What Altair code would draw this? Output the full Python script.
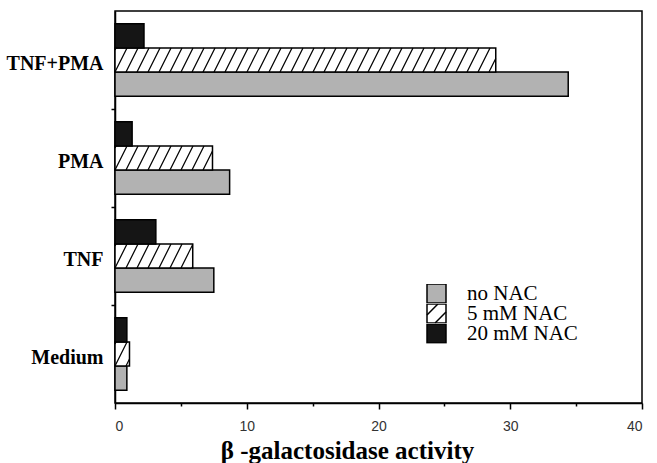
import altair as alt
import pandas as pd

# ---- data ----
categories = ["Medium", "TNF", "PMA", "TNF+PMA"]          # bottom -> top
series = ["no NAC", "5 mM NAC", "20 mM NAC"]
no_nac = [0.9, 7.5, 8.7, 34.4]
nac_5 = [1.1, 5.9, 7.4, 28.9]
nac_20 = [0.9, 3.1, 1.3, 2.2]
x_ticks = [0, 5, 10, 15, 20, 25, 30, 35, 40]

# ---- layout helpers ----
PAD = 0.13
BH = (1 - 2 * PAD) / 3
PX_PER_UNIT = 527 / 40.0
DX = 12 / PX_PER_UNIT      # horizontal run of a hatch stroke across one bar
SP = 11 / PX_PER_UNIT      # spacing between hatch strokes

rows = []
for ci, cat in enumerate(categories):
    for si, (s, vals) in enumerate(zip(series, [no_nac, nac_5, nac_20])):
        y0 = ci + PAD + si * BH
        rows.append(dict(category=cat, series=s, pattern="p" + str(si),
                         value=vals[ci], start=0.0,
                         y0=y0, y1=y0 + BH, ym=y0 + BH / 2))
bars = pd.DataFrame(rows)

hatch_rows = []
for r in bars[bars.series == series[1]].itertuples():
    k = -3
    while True:
        x0 = k * SP
        if x0 > r.value:
            break
        tmin = max(0.0, (0 - x0) / DX)
        tmax = min(1.0, (r.value - x0) / DX)
        if tmin < tmax:
            hatch_rows.append(dict(x=x0 + tmin * DX, x2=x0 + tmax * DX,
                                   y=r.y0 + tmin * BH, y2=r.y0 + tmax * BH))
        k += 1
hatch = pd.DataFrame(hatch_rows)

xscale = alt.Scale(domain=[0, 40], nice=False, zero=False)
yscale = alt.Scale(domain=[0, 4], nice=False, zero=False)

label_expr = " : ".join(
    f"datum.value === {i + 0.5} ? '{c}'" for i, c in enumerate(categories)
) + " : ''"

x_axis = alt.Axis(
    values=x_ticks,
    labelExpr="datum.value % 10 === 0 ? datum.label : ''",
    title="β -galactosidase  activity",
    grid=False,
    domainColor="black", domainWidth=1.5,
    tickColor="black", tickWidth=1.5,
    tickSize={"condition": {"test": "datum.value % 10 !== 0", "value": 3}, "value": 6},
    labelFont="Liberation Sans", labelFontSize=14, labelColor="#333",
    labelPadding=10,
    titleFont="Liberation Serif", titleFontWeight="bold", titleFontSize=25,
    titleColor="black",
    titleAlign="center", titleBaseline="alphabetic",
    titleX=232, titleY=55,
)
y_axis = alt.Axis(
    values=[0.5, 1, 1.5, 2, 2.5, 3, 3.5],
    labelExpr=label_expr,
    title=None,
    grid=False,
    domainColor="black", domainWidth=1.5,
    tickColor="black", tickWidth=1.5, tickSize=4,
    tickOpacity={"condition": {"test": "datum.value % 1 !== 0", "value": 0}, "value": 1},
    labelFont="Liberation Serif", labelFontWeight="bold", labelFontSize=20,
    labelColor="black", labelPadding=8, labelOffset=3,
)

fill_range = ["#b2b2b2", "white", "#151515"]
key_range = ["#b2b2b2", "transparent", "#151515"]
sq = "M-1,-1H1V1H-1Z"
hatch_only = "M-1,0.15L0.15,-1 M-0.15,1L1,-0.15"
blank = "M0,0Z"

rects = alt.Chart(bars).mark_rect(stroke="black", strokeWidth=1.5).encode(
    x=alt.X("start:Q", scale=xscale, axis=x_axis),
    x2="value:Q",
    y=alt.Y("y0:Q", scale=yscale, axis=y_axis),
    y2="y1:Q",
    fill=alt.Fill("series:N", scale=alt.Scale(domain=series, range=fill_range), legend=None),
)

lines = alt.Chart(hatch).mark_rule(color="black", strokeWidth=1.2).encode(
    x=alt.X("x:Q", scale=xscale),
    x2="x2:Q",
    y=alt.Y("y:Q", scale=yscale),
    y2="y2:Q",
)

common = dict(title=None, orient="none", legendX=311, legendY=273,
              clipHeight=19, rowPadding=-4)

# legend A: filled squares with series names
key_fill = alt.Chart(bars).mark_point(filled=True, opacity=0).encode(
    x=alt.X("value:Q", scale=xscale),
    y=alt.Y("ym:Q", scale=yscale),
    fill=alt.Fill("series:N", scale=alt.Scale(domain=series, range=key_range),
                  legend=alt.Legend(symbolType=sq, labelFont="Liberation Serif", **common)),
)
# legend B: hatch strokes laid over the (transparent) key square
key_hatch = alt.Chart(bars).mark_point(filled=False, color="black", opacity=0).encode(
    x=alt.X("value:Q", scale=xscale),
    y=alt.Y("ym:Q", scale=yscale),
    shape=alt.Shape("pattern:N",
                    scale=alt.Scale(domain=["p0", "p1", "p2"], range=[blank, hatch_only, blank]),
                    legend=alt.Legend(labelExpr="' '", symbolFillColor="transparent",
                                      symbolStrokeColor="black", symbolOpacity=1, **common)),
)

chart = alt.layer(rects, lines, key_fill, key_hatch).resolve_scale(
    fill="independent"
).properties(
    width=527, height=392, autosize="none",
    padding={"left": 115, "top": 11, "right": 15, "bottom": 60},
    background="white",
).configure(
    font="Liberation Serif"
).configure_view(
    stroke="black", strokeWidth=1.5
).configure_legend(
    symbolSize=361, symbolStrokeColor="black", symbolStrokeWidth=1.5,
    symbolOpacity=1,
    labelFont="Liberation Serif", labelFontSize=21, labelFontWeight="normal",
    labelColor="black", labelOffset=20, padding=0,
)

chart.save("out.html", embed_options={"renderer": "svg", "actions": False})
